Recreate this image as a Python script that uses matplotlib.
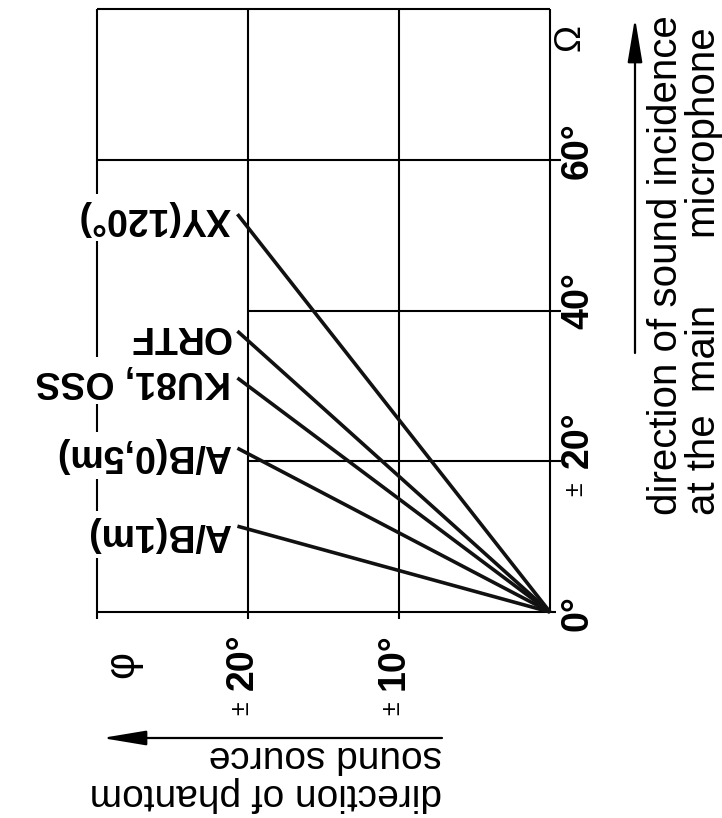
import matplotlib
matplotlib.use("Agg")
import matplotlib.pyplot as plt
from matplotlib.patches import FancyArrowPatch
from matplotlib.transforms import IdentityTransform

plt.rcParams['font.family'] = ['Liberation Sans', 'DejaVu Sans']

# microphone systems and the sound incidence angle (Omega) at which
# the phantom source reaches +-20 degrees
mics = ["A/B(1m)", "A/B(0,5m)", "KU81, OSS", "ORTF", "XY(120°)"]
omega_at_20 = [11, 21, 30, 36, 51]
label_omega = [10.3, 20.8, 30.7, 36.6, 52.3]

omega_ticks = [0, 20, 40, 60]
omega_labels = ["0°", "±20°", "40°", "60°"]
phi_ticks = [10, 20]
phi_labels = ["±10°", "±20°"]

W, H = 722, 818
fig = plt.figure(figsize=(W / 100, H / 100), dpi=100)
ax = fig.add_axes([97 / W, 1 - 612 / H, 453 / W, 603 / H])
ax.set_xlim(30, 0)
ax.set_ylim(0, 80)
ax.axis('off')

k = dict(color='black', lw=1.5, zorder=1, clip_on=False, solid_capstyle='butt')
# vertical grid lines / frame
for p in [30, 20, 10, 0]:
    ax.plot([p, p], [0, 80], **k)
# horizontal grid lines (with little ticks past the right edge)
ax.plot([30, 0], [80, 80], **k)
ax.plot([30, -0.7], [60, 60], **k)
ax.plot([20, -0.7], [40, 40], **k)
ax.plot([20, -0.7], [20, 20], **k)
ax.plot([30, -0.4], [0, 0], **k)
for p in [30, 20, 10]:
    ax.plot([p, p], [0, -0.9], **k)

# the localisation lines
for name, w, lo in zip(mics, omega_at_20, label_omega):
    ax.plot([0, 20.7], [0, w * 20.7 / 20], color='#111', lw=2.6, zorder=4,
            clip_on=False, solid_capstyle='butt')
    ax.text(21.15, lo, name, rotation=180, rotation_mode='anchor',
            ha='left', va='center', fontsize=27, fontweight='bold', zorder=3,
            bbox=dict(fc='white', ec='none', pad=4))

# Omega tick labels (right side)
for t, lab in zip(omega_ticks, omega_labels):
    if lab.startswith('±'):
        ax.text(-1.85, t - 0.9, lab[1:], rotation=90, rotation_mode='anchor',
                ha='left', va='center', fontsize=27, fontweight='bold')
        ax.text(-1.7, t - 3.7, '±', rotation=90, rotation_mode='anchor',
                ha='center', va='center', fontsize=18)
    else:
        ax.text(-1.85, t - 2.5, lab, rotation=90, rotation_mode='anchor',
                ha='left', va='center', fontsize=27, fontweight='bold')
ax.text(-1.3, 76.2, 'Ω', rotation=90, rotation_mode='anchor',
        ha='center', va='center', fontsize=26)

# phi tick labels (bottom)
for t, lab in zip(phi_ticks, phi_labels):
    ax.text(t + 0.35, -10.3, lab[1:], rotation=90, rotation_mode='anchor',
            ha='left', va='center', fontsize=27, fontweight='bold')
    ax.text(t + 0.45, -12.7, '±', rotation=90, rotation_mode='anchor',
            ha='center', va='center', fontsize=18)
ax.text(28.3, -7.0, 'φ', rotation=90, rotation_mode='anchor',
        ha='center', va='center', fontsize=30)

# axis titles with arrows
tr = IdentityTransform()
fig.text(685, H - 515, "direction of sound incidence\nat the  main      microphone",
         transform=tr, rotation=90, rotation_mode='anchor', ha='left',
         va='center', fontsize=29, linespacing=0.98)
fig.text(442, H - 775, "direction of phantom\nsound source",
         transform=tr, rotation=180, rotation_mode='anchor', ha='left',
         va='center', fontsize=28, linespacing=1.1)

for a, b in [((635, H - 353), (635, H - 18)), ((442, H - 738), (102, H - 738))]:
    fig.add_artist(FancyArrowPatch(a, b, transform=tr, mutation_scale=1,
                                   arrowstyle='-|>,head_length=27,head_width=4.5',
                                   lw=1.6, color='black', shrinkA=0, shrinkB=0))

fig.savefig('out.png', dpi=100, facecolor='white')
